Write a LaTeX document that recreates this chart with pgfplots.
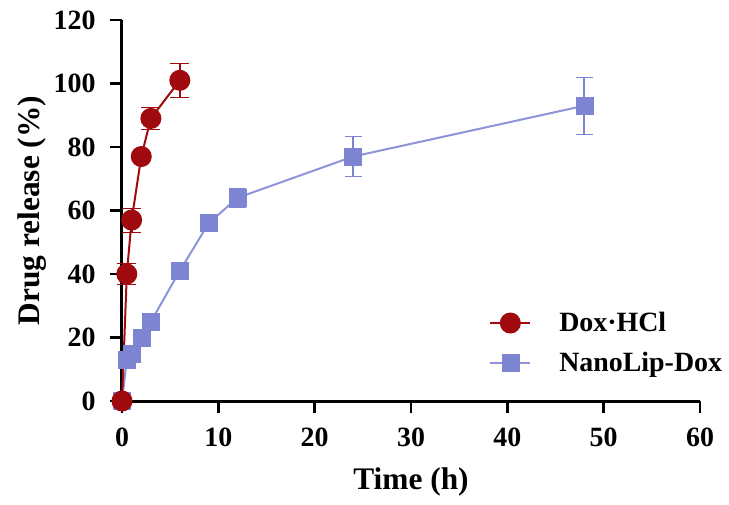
\documentclass[border=0pt]{standalone}
\usepackage{fontspec}
\setmainfont{Liberation Serif}
\usepackage{pgfplots}
\pgfplotsset{compat=1.18}
\definecolor{doxred}{RGB}{160,10,15}
\definecolor{lipblue}{RGB}{125,133,210}
\definecolor{lipline}{RGB}{142,148,216}

\begin{document}
\begin{tikzpicture}
\begin{axis}[
    name=ax,
    scale only axis,
    width=578bp, height=381bp,
    xmin=0, xmax=60, ymin=0, ymax=120,
    xtick={0,10,...,60}, ytick={0,20,...,120},
    axis x line=bottom, axis y line=left,
    axis line style={-, line width=3bp},
    tick align=outside, major tick length=12bp,
    tick style={line width=2.5bp, black},
    font=\fontsize{28}{33}\selectfont\bfseries,
    /pgf/number format/assume math mode=true,
    xticklabel style={yshift=-11bp},
    yticklabel style={xshift=-11bp},
    xlabel={Time (h)}, ylabel={Drug release (\%)},
    label style={font=\fontsize{31.5}{36}\selectfont\bfseries},
    xlabel style={at={(axis description cs:0.5,-0.213)}, anchor=center},
    ylabel style={at={(axis description cs:-0.156,0.5)}, anchor=center},
    clip=false,
    reverse legend,
    legend cell align=left,
    legend style={at={(rel axis cs:0.63,0.243)}, anchor=north west,
        draw=none, fill=none, row sep=15bp,
        font=\fontsize{28}{33}\selectfont\bfseries},
    legend image code/.code={%
        \draw[mark repeat=2, mark phase=2, #1]
            plot coordinates {(0bp,0bp) (20bp,0bp) (40bp,0bp)};
        \path (66bp,0bp);},
    error bars/error mark=|,
    error bars/error bar style={line width=2bp},
    error bars/error mark options={mark size=6.5bp, line width=2bp},
]
% NanoLip-Dox
\addplot[color=lipline, line width=2bp, mark=square*,
    mark options={fill=lipblue, draw=lipblue, line width=0.5bp}, mark size=8.5bp,
    error bars/.cd, y dir=both, y explicit,
    error bar style={color=lipblue}, error mark options={color=lipblue}]
coordinates {
    (0,0) +- (0,0.5)
    (0.5,13) +- (0,1)
    (1,15) +- (0,1)
    (2,20) +- (0,1)
    (3,25) +- (0,1)
    (6,41) +- (0,1)
    (9,56) +- (0,1)
    (12,64) +- (0,3)
    (24,77) +- (0,6.3)
    (48,93) +- (0,9)
};
\addlegendentry{NanoLip-Dox}

% Dox-HCl
\addplot[color=doxred, line width=2bp, mark=*,
    mark options={fill=doxred, draw=doxred}, mark size=9.5bp,
    error bars/.cd, y dir=both, y explicit,
    error bar style={color=doxred}, error mark options={color=doxred}]
coordinates {
    (0,0) +- (0,0.5)
    (0.5,40) +- (0,3.3)
    (1,57) +- (0,3.8)
    (2,77) +- (0,0.8)
    (3,89) +- (0,3.5)
    (6,101) +- (0,5.3)
};
\addlegendentry{Dox·HCl}
\end{axis}
% page frame with the reference's margins
\path ([shift={(-122bp,-103bp)}]ax.south west) rectangle ([shift={(29bp,20bp)}]ax.north east);
\end{tikzpicture}
\end{document}
